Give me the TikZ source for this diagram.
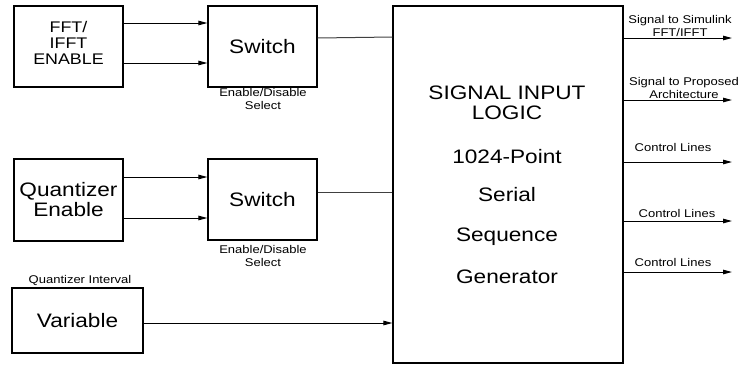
\documentclass[tikz,border=0pt]{standalone}
\usepackage{fontspec}
\setmainfont{Liberation Sans}[FakeStretch=1.16]
\usetikzlibrary{arrows.meta}
\begin{document}
\begin{tikzpicture}[x=1pt,y=-1pt,
  box/.style={draw,line width=1.2pt,inner sep=0pt,align=center},
  big/.style={font=\fontsize{19.5}{20}\selectfont},
  mid/.style={font=\fontsize{15.4}{16}\selectfont},
  small/.style={font=\fontsize{11.2}{13}\selectfont,align=center,inner sep=0pt},
  arr/.style={line width=1pt,-{Triangle[length=9pt,width=4.5pt]}},
  wire/.style={line width=1pt,black!75}]
\useasboundingbox (0,0) rectangle (744,365);
% boxes
\node[box,mid,minimum width=109pt,minimum height=81pt] (fft) at (68.5,46.5) {};
\node[mid,align=center,inner sep=0pt] (ffttxt) at (68.5,43) {FFT/\\IFFT\\ENABLE};
\node[box,big,minimum width=109pt,minimum height=81pt] (sw1) at (262.5,46.5) {Switch};
\node[box,big,minimum width=109pt,minimum height=82pt,font=\fontsize{19.5}{20}\selectfont] (qe) at (68.5,200) {Quantizer\\Enable};
\node[box,big,minimum width=109pt,minimum height=81pt] (sw2) at (262.5,199.5) {Switch};
\node[box,big,minimum width=131pt,minimum height=65pt] (var) at (77.5,320.5) {Variable};
\node[box,minimum width=230pt,minimum height=357pt] (sil) at (508,184.5) {};
% texts in big box
\node[big,align=center,inner sep=0pt] (t1) at (507,103) {SIGNAL INPUT\\LOGIC};
\node[big,inner sep=0pt] (t2) at (507,157) {1024-Point};
\node[big,inner sep=0pt] (t3) at (507,195) {Serial};
\node[big,inner sep=0pt] (t4) at (507,237) {Sequence};
\node[big,inner sep=0pt] (t5) at (507,277) {Generator};
% labels
\node[small] (l1) at (263,99) {Enable/Disable\\Select};
\node[small] (l2) at (263,255.5) {Enable/Disable\\Select};
\node[small] (l3) at (80,280) {Quantizer Interval};
% connectors
\draw[arr] (fft.east |- 0,23) -- (sw1.west |- 0,23);
\draw[arr] (fft.east |- 0,63) -- (sw1.west |- 0,63);
\draw[arr] (qe.east |- 0,177) -- (sw2.west |- 0,177);
\draw[arr] (qe.east |- 0,218) -- (sw2.west |- 0,218);
\draw[wire] (sw1.east |- 0,38) -- (sil.west |- 0,37);
\draw[wire] (sw2.east |- 0,192) -- (sil.west |- 0,192);
\draw[arr] (var.east |- 0,323) -- (sil.west |- 0,323);
% outputs
\coordinate (o1) at (732,38);
\coordinate (o2) at (732,100);
\coordinate (o3) at (732,162);
\coordinate (o4) at (732,221);
\coordinate (o5) at (732,272);
\draw[arr] (sil.east |- o1) -- (o1);
\draw[arr] (sil.east |- o2) -- (o2);
\draw[arr] (sil.east |- o3) -- (o3);
\draw[arr] (sil.east |- o4) -- (o4);
\draw[arr] (sil.east |- o5) -- (o5);
\node[small] (ol1) at (680,25.5) {Signal to Simulink\\FFT/IFFT};
\node[small] (ol2) at (684,88) {Signal to Proposed\\Architecture};
\node[small] (ol3) at (673,147) {Control Lines};
\node[small] (ol4) at (677,213) {Control Lines};
\node[small] (ol5) at (673,262) {Control Lines};
\end{tikzpicture}
\end{document}
